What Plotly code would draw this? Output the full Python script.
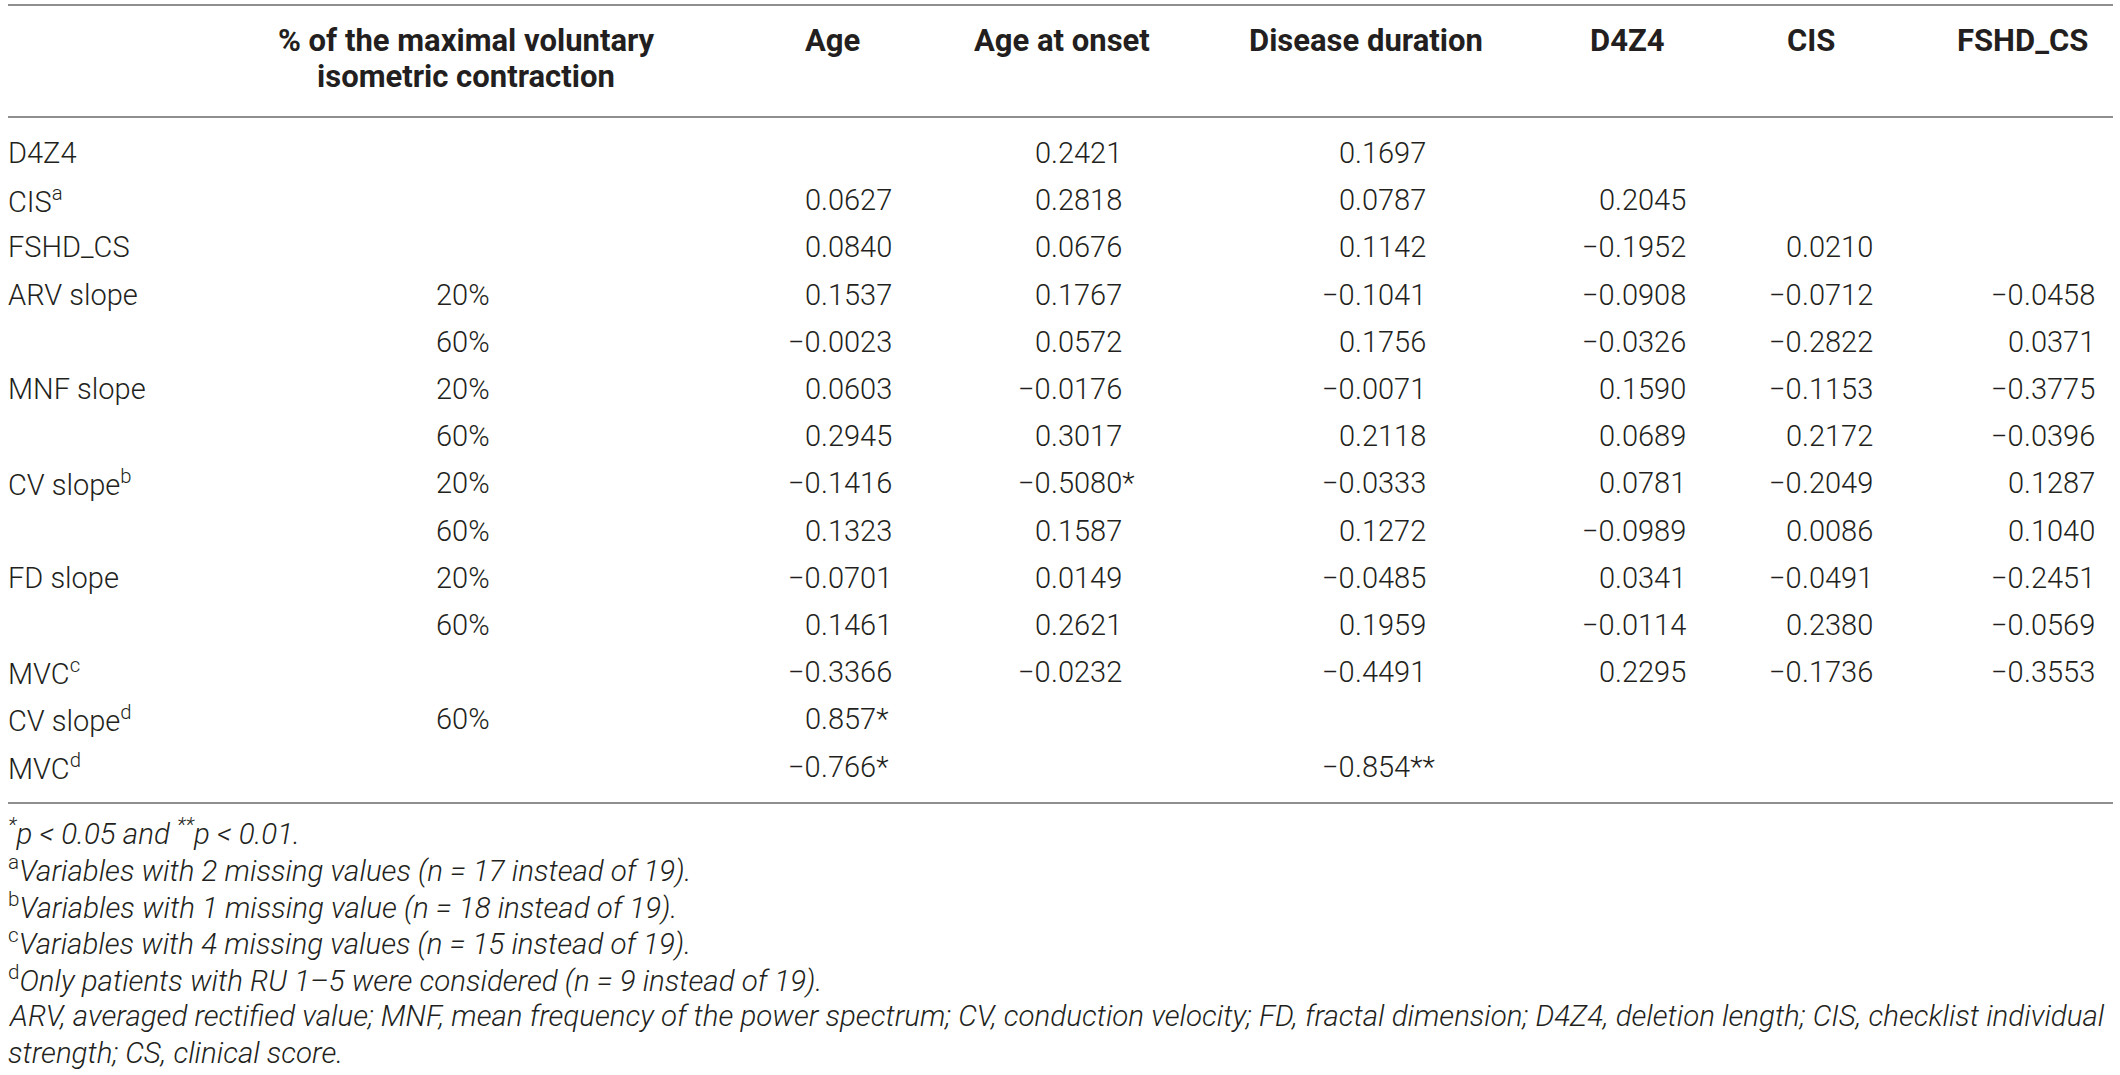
import plotly.graph_objects as go

W, H = 2120, 1075

# ---------------- data ----------------
col_headers = ["Age", "Age at onset", "Disease duration", "D4Z4", "CIS", "FSHD_CS"]
mvic_header = ["% of the maximal voluntary", "isometric contraction"]

row_labels = ["D4Z4", "CIS<sup>a</sup>", "FSHD_CS", "ARV slope", "", "MNF slope", "",
              "CV slope<sup>b</sup>", "", "FD slope", "", "MVC<sup>c</sup>",
              "CV slope<sup>d</sup>", "MVC<sup>d</sup>"]
mvic_pct = ["", "", "", "20%", "60%", "20%", "60%", "20%", "60%", "20%", "60%", "", "60%", ""]

age = ["", "0.0627", "0.0840", "0.1537", "−0.0023", "0.0603", "0.2945", "−0.1416",
       "0.1323", "−0.0701", "0.1461", "−0.3366", "0.857*", "−0.766*"]
age_onset = ["0.2421", "0.2818", "0.0676", "0.1767", "0.0572", "−0.0176", "0.3017",
             "−0.5080*", "0.1587", "0.0149", "0.2621", "−0.0232", "", ""]
disease_duration = ["0.1697", "0.0787", "0.1142", "−0.1041", "0.1756", "−0.0071", "0.2118",
                    "−0.0333", "0.1272", "−0.0485", "0.1959", "−0.4491", "", "−0.854**"]
d4z4 = ["", "0.2045", "−0.1952", "−0.0908", "−0.0326", "0.1590", "0.0689", "0.0781",
        "−0.0989", "0.0341", "−0.0114", "0.2295", "", ""]
cis = ["", "", "0.0210", "−0.0712", "−0.2822", "−0.1153", "0.2172", "−0.2049",
       "0.0086", "−0.0491", "0.2380", "−0.1736", "", ""]
fshd_cs = ["", "", "", "−0.0458", "0.0371", "−0.3775", "−0.0396", "0.1287", "0.1040",
           "−0.2451", "−0.0569", "−0.3553", "", ""]

footnotes = [
    "<i><sup>*</sup>p &lt; 0.05 and <sup>**</sup>p &lt; 0.01.</i>",
    "<sup>a</sup><i>Variables with 2 missing values (n = 17 instead of 19).</i>",
    "<sup>b</sup><i>Variables with 1 missing value (n = 18 instead of 19).</i>",
    "<sup>c</sup><i>Variables with 4 missing values (n = 15 instead of 19).</i>",
    "<sup>d</sup><i>Only patients with RU 1–5 were considered (n = 9 instead of 19).</i>",
    "<i>ARV, averaged rectified value; MNF, mean frequency of the power spectrum; CV, conduction velocity; "
    "FD, fractal dimension; D4Z4, deletion length; CIS, checklist individual</i>",
    "<i>strength; CS, clinical score.</i>",
]

columns = [age, age_onset, disease_duration, d4z4, cis, fshd_cs]

# ---------------- layout constants (pixels) ----------------
TEXT = "#231f20"
RULE = "#8f8f8f"
FAM = "Roboto"
body_font = dict(family=FAM, size=29, color=TEXT, weight=300)
head_font = dict(family=FAM, size=31, color=TEXT, weight=700)
foot_font = dict(family=FAM, size=29.5, color=TEXT, weight=300)

LEFT = 8
RIGHT = 2113
PCT_X = 436
MVIC_CX = 466
col_right = [892, 1122, 1426, 1686, 1873, 2095]
col_head_cx = [832, 1062, 1366, 1627, 1811, 2022]
FRAC_W = 71            # width of ".dddd"
HEAD_Y = [41, 77]
ROW_Y0, ROW_DY = 153, 47.2
RULES_Y = [5, 117, 803]
FOOT_Y0, FOOT_DY = 832, 36.8


def px(x):
    return x / W


def py(y):
    return 1 - y / H


annotations = []


def add(text, x, y, xanchor, font, yanchor="middle", align="left"):
    annotations.append(dict(text=text, x=px(x), y=py(y), xref="paper", yref="paper",
                            xanchor=xanchor, yanchor=yanchor, align=align,
                            showarrow=False, font=font, borderpad=0, borderwidth=0))


# header
for line, hy in zip(mvic_header, HEAD_Y):
    add(line, MVIC_CX, hy, "center", head_font, align="center")
for h, cx in zip(col_headers, col_head_cx):
    add(h, cx, HEAD_Y[0], "center", head_font)

# body rows
for i, (lab, pct) in enumerate(zip(row_labels, mvic_pct)):
    y = ROW_Y0 + i * ROW_DY
    if lab:
        add(lab, LEFT, y, "left", body_font)
    if pct:
        add(pct, PCT_X, y, "left", body_font)
    for col, right in zip(columns, col_right):
        v = col[i]
        if not v:
            continue
        ip, fp = v.split(".", 1)
        xdec = right - FRAC_W
        add(ip, xdec, y, "right", body_font)
        add("." + fp, xdec, y, "left", body_font)

# footnotes
for j, t in enumerate(footnotes):
    add(t, LEFT, FOOT_Y0 + j * FOOT_DY, "left", foot_font)

shapes = [dict(type="line", xref="paper", yref="paper", x0=px(LEFT), x1=px(RIGHT),
               y0=py(r), y1=py(r), line=dict(color=RULE, width=2)) for r in RULES_Y]

fig = go.Figure()
fig.update_layout(
    width=W, height=H,
    margin=dict(l=0, r=0, t=0, b=0),
    paper_bgcolor="white", plot_bgcolor="white",
    xaxis=dict(visible=False, range=[0, 1]),
    yaxis=dict(visible=False, range=[0, 1]),
    annotations=annotations,
    shapes=shapes,
    showlegend=False,
)

fig.write_html("out.html", config={"displayModeBar": False},
               post_script="document.body.style.margin='0';")
